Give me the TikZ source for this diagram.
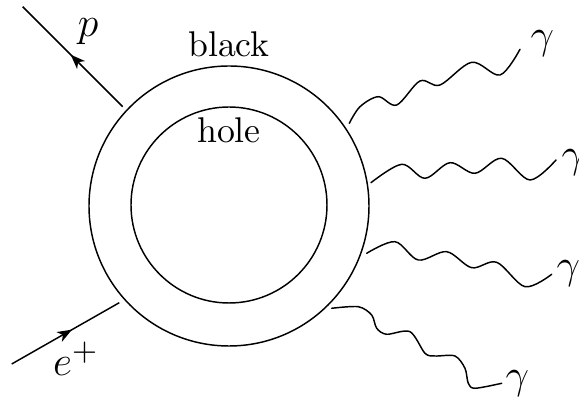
\documentclass[tikz,border=0pt]{standalone}
\usetikzlibrary{arrows.meta,decorations.markings}
\begin{document}
\begin{tikzpicture}[x=0.288pt,y=-0.288pt,
  thinline/.style={line width=0.42pt,black},
  midarrow/.style={postaction={decorate},decoration={markings,
     mark=at position #1 with {\arrow{Stealth[length=4.2pt,width=3.2pt,inset=1.2pt]}}}},
  photon/.style={thinline,line cap=round},
  lbl/.style={inner sep=0pt,font=\fontsize{13}{15}\selectfont},
  word/.style={inner sep=0pt,anchor=base,font=\fontsize{10.3}{12}\selectfont}]
\useasboundingbox (0,0) rectangle (579,402);
% black hole
\node[thinline,draw,circle,minimum size=280*0.288pt,inner sep=0pt] (bh) at (229,206) {};
\node[thinline,draw,circle,minimum size=196*0.288pt,inner sep=0pt] (core) at (229,205) {};
\node[word] (tblack) at (229,57) {black};
\node[word] (thole) at (229,143) {hole};
% proton line
\coordinate (pin) at (122.7,106.7);
\coordinate (pout) at (22.7,6.7);
\draw[thinline,midarrow=0.52] (pin) -- (pout);
\node[lbl] (lp) at (88,32) {$p$};
% positron line
\coordinate (ein) at (11.7,364);
\coordinate (eout) at (119.3,302.7);
\draw[thinline,midarrow=0.56] (ein) -- (eout);
\node[lbl] (le) at (76,359) {$e^+$};
% photons
\draw[photon] plot[smooth,tension=0.55] coordinates {
 (349.3,123.3) (360,106.7) (378.3,96.7) (396.7,105) (420,81) (440,85)
 (471.7,62.3) (500,75) (520,49.3)};
\node[lbl,anchor=west] (g1) at (530,44) {$\gamma$};
\draw[photon] plot[smooth,tension=0.55] coordinates {
 (371,182.7) (401.7,164.3) (425,178.3) (450,162.7) (475,173.3)
 (501.7,158.3) (530,180) (556,160)};
\node[lbl,anchor=west] (g2) at (561,163) {$\gamma$};
\draw[photon] plot[smooth,tension=0.55] coordinates {
 (366.7,253.3) (395,241.7) (418.3,260) (446.7,251.7) (471.7,267.7)
 (496.7,262.3) (525,286.7) (551.7,274.3)};
\node[lbl,anchor=west] (g3) at (556,274) {$\gamma$};
\draw[photon] plot[smooth,tension=0.5] coordinates {
 (331.7,308.3) (358.3,306.7) (371.7,315) (376.7,328.3) (386.7,334.3)
 (410,331.7) (425,353.3) (435,356) (455,356) (465,368.3) (468.3,383.3)
 (475,388.3) (501.7,383.3)};
\node[lbl,anchor=west] (g4) at (505,384) {$\gamma$};
\end{tikzpicture}
\end{document}
